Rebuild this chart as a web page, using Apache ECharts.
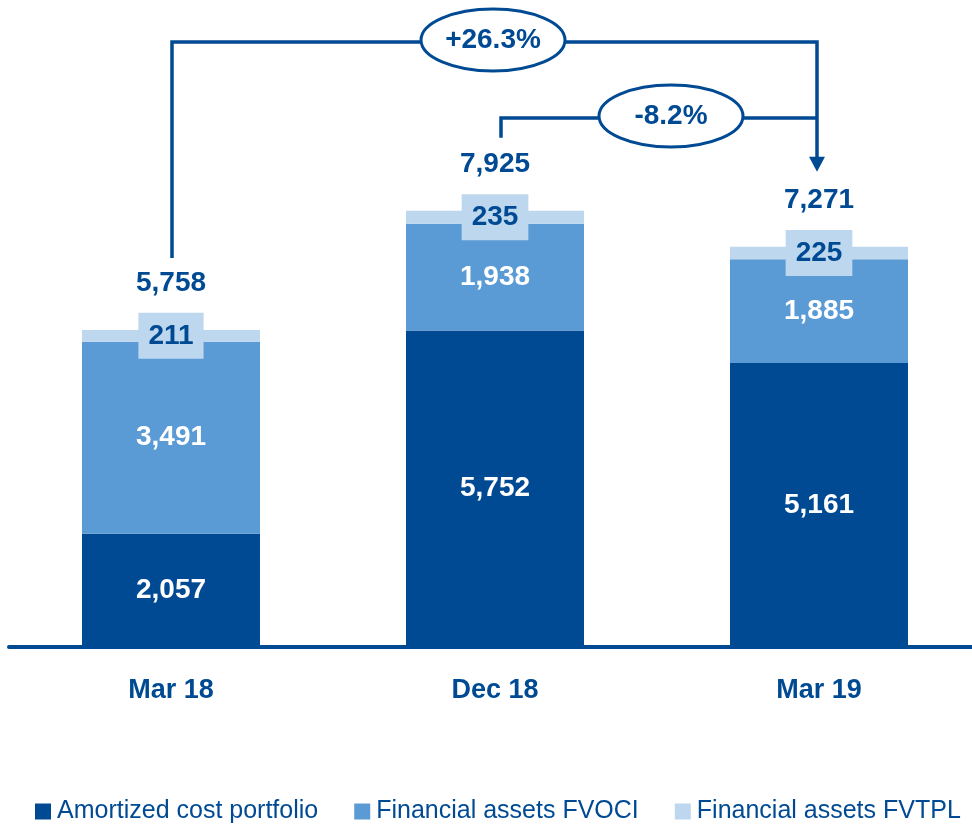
<!DOCTYPE html>
<html>
<head>
<meta charset="utf-8">
<style>
  html, body { margin: 0; padding: 0; background: #fff; }
  #chart { width: 972px; height: 832px; }
</style>
<script src="https://cdn.jsdelivr.net/npm/echarts@6/dist/echarts.min.js"></script>
</head>
<body>
<div id="chart"></div>
<script>
const categories = ['Mar 18', 'Dec 18', 'Mar 19'];
const amortized = [2057, 5752, 5161];
const fvoci = [3491, 1938, 1885];
const fvtpl = [211, 235, 225];
const totals = [5758, 7925, 7271];
const changes = ['+26.3%', '-8.2%'];

const DARK = '#004A94';
const MID = '#5B9BD5';
const LIGHT = '#BDD7EE';
const FONT = '"Liberation Sans Narrow", "Arial Narrow", "Liberation Sans", sans-serif';

const chart = echarts.init(document.getElementById('chart'));

const option = {
    animation: false,
    grid: { left: 9, width: 972, top: 96.6, bottom: 185, outerBoundsMode: 'none' },
    legend: {
        bottom: 3,
        left: 30,
        itemWidth: 16,
        itemHeight: 16,
        itemGap: 36,
        icon: 'rect',
        data: ['Amortized cost portfolio', 'Financial assets FVOCI', 'Financial assets FVTPL'],
        textStyle: { color: DARK, fontSize: 25, fontFamily: FONT, padding: [0, 0, 0, 1] }
    },
    xAxis: {
        type: 'category',
        data: categories,
        axisLine: { lineStyle: { color: DARK, width: 4 } },
        axisTick: { show: false },
        axisLabel: { color: DARK, fontSize: 27, fontWeight: 'bold', fontFamily: FONT, margin: 30 }
    },
    yAxis: {
        type: 'value',
        min: 0,
        max: 10000,
        show: false
    },
    series: [
        {
            name: 'Amortized cost portfolio',
            type: 'bar',
            stack: 'total',
            barWidth: 178,
            data: amortized,
            itemStyle: { color: DARK },
            label: {
                show: true,
                position: 'inside',
                color: '#fff',
                fontSize: 28,
                fontWeight: 'bold',
                fontFamily: FONT,
                formatter: p => p.value.toLocaleString('en-US')
            }
        },
        {
            name: 'Financial assets FVOCI',
            type: 'bar',
            stack: 'total',
            data: fvoci,
            itemStyle: { color: MID },
            label: {
                show: true,
                position: 'inside',
                color: '#fff',
                fontSize: 28,
                fontWeight: 'bold',
                fontFamily: FONT,
                formatter: p => p.value.toLocaleString('en-US')
            }
        },
        {
            name: 'Financial assets FVTPL',
            type: 'bar',
            stack: 'total',
            data: fvtpl,
            itemStyle: { color: LIGHT },
            label: {
                show: true,
                position: 'inside',
                color: DARK,
                fontSize: 28,
                fontWeight: 'bold',
                fontFamily: FONT,
                backgroundColor: LIGHT,
                padding: [9, 10, 9, 10],
                formatter: p => p.value.toLocaleString('en-US')
            }
        },
        {
            // totals above each bar
            name: 'total',
            type: 'bar',
            stack: 'total',
            data: [0, 0, 0],
            itemStyle: { color: 'transparent' },
            label: {
                show: true,
                position: 'top',
                distance: 33,
                color: DARK,
                fontSize: 28,
                fontWeight: 'bold',
                fontFamily: FONT,
                formatter: p => totals[p.dataIndex].toLocaleString('en-US')
            }
        }
    ]
};

chart.setOption(option);

// connectors with change bubbles
const pt = i => chart.convertToPixel({ seriesIndex: 0 }, [i, totals[i]]);
const p0 = pt(0), p1 = pt(1), p2 = pt(2);
const yTop = 42, yMid = 118;
const lineStyle = { stroke: DARK, lineWidth: 3.5, fill: null };

chart.setOption({
    graphic: [
        { type: 'polyline', shape: { points: [[p0[0] + 1, p0[1] - 72], [p0[0] + 1, yTop], [p2[0] - 2, yTop], [p2[0] - 2, p2[1] - 88]] }, style: lineStyle },
        { type: 'polyline', shape: { points: [[p1[0] + 6, p1[1] - 73], [p1[0] + 6, yMid], [p2[0] - 2, yMid]] }, style: lineStyle },
        { type: 'polygon', shape: { points: [[p2[0] - 10, p2[1] - 90], [p2[0] + 6, p2[1] - 90], [p2[0] - 2, p2[1] - 75]] }, style: { fill: DARK } },
        { type: 'ellipse', shape: { cx: 493, cy: 40, rx: 72, ry: 31 }, style: { fill: '#fff', stroke: DARK, lineWidth: 3 } },
        { type: 'text', x: 493, y: 40, style: { text: changes[0], fill: DARK, font: 'bold 28px ' + FONT, align: 'center', verticalAlign: 'middle' } },
        { type: 'ellipse', shape: { cx: 671, cy: 116, rx: 72, ry: 31 }, style: { fill: '#fff', stroke: DARK, lineWidth: 3 } },
        { type: 'text', x: 671, y: 116, style: { text: changes[1], fill: DARK, font: 'bold 28px ' + FONT, align: 'center', verticalAlign: 'middle' } }
    ]
});
</script>
</body>
</html>
